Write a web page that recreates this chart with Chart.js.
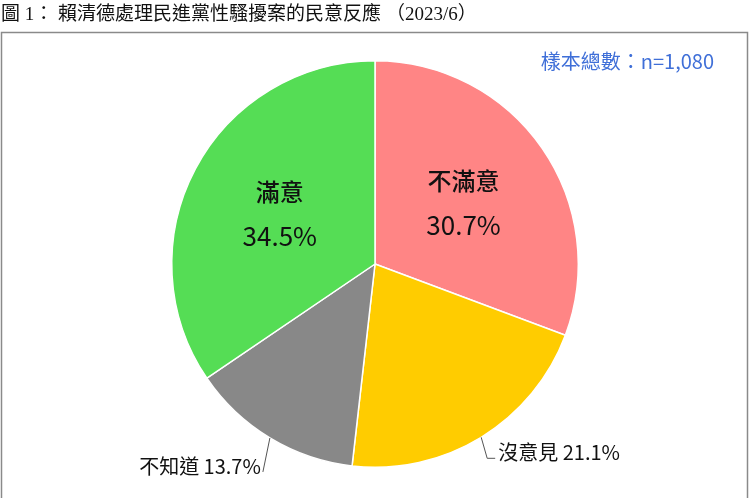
<!DOCTYPE html>
<html>
<head>
<meta charset="utf-8">
<script src="https://cdn.jsdelivr.net/npm/chart.js@4"></script>
<style>
  html, body { margin: 0; padding: 0; background: #fff; }
  #wrap { width: 750px; height: 498px; }
</style>
</head>
<body>
<div id="wrap"><canvas id="pie_chart" width="750" height="498"></canvas></div>
<script>
// data (clockwise from 12 o'clock)
const categories = ["不滿意", "沒意見", "不知道", "滿意"];
const percents = [30.7, 21.1, 13.7, 34.5];
const sliceColors = ["#FF8585", "#FFCC00", "#888888", "#55DD55"];

// title is drawn in three pieces so the spacing follows the original
const titleParts = ["圖 1：", "賴清德處理民進黨性騷擾案的民意反應", "（2023/6）"];
const sampleNote = "樣本總數：n=1,080";

const SANS = '"Noto Sans CJK TC", "Noto Sans", sans-serif';
const TITLE_FONT = '"Liberation Serif", "Noto Sans CJK TC", serif';

// frame, title and sample size
const framePlugin = {
  id: "frame",
  beforeDraw(chart) {
    const ctx = chart.ctx;
    ctx.save();
    ctx.fillStyle = "#fff";
    ctx.fillRect(0, 0, chart.width, chart.height);

    ctx.strokeStyle = "#8a8a8a";
    ctx.lineWidth = 1.5;
    ctx.strokeRect(1.5, 32.5, chart.width - 4, chart.height + 20);

    ctx.fillStyle = "#111";
    ctx.textAlign = "left";
    ctx.textBaseline = "middle";
    ctx.font = "19px " + TITLE_FONT;
    ctx.fillText(titleParts[0], 1, 15);
    ctx.font = "19px " + TITLE_FONT;
    ctx.fillText(titleParts[1], 58, 15);
    ctx.font = "19px " + TITLE_FONT;
    ctx.fillText(titleParts[2], 386, 15);

    ctx.fillStyle = "#3F6FD8";
    ctx.font = "20px " + SANS;
    ctx.textAlign = "right";
    ctx.fillText(sampleNote, 714, 61);
    ctx.restore();
  }
};

// slice labels: big ones inside, small ones outside with a leader line
const labelPlugin = {
  id: "sliceLabels",
  afterDatasetsDraw(chart) {
    const ctx = chart.ctx;
    const meta = chart.getDatasetMeta(0);
    ctx.save();
    meta.data.forEach(function (arc, i) {
      const p = arc.getProps(["x", "y", "startAngle", "endAngle", "outerRadius"], true);
      const mid = (p.startAngle + p.endAngle) / 2;
      const cos = Math.cos(mid), sin = Math.sin(mid);
      const pct = percents[i].toFixed(1) + "%";

      if (percents[i] > 25) {
        const r = p.outerRadius * 0.53;
        const cx = p.x + cos * r, cy = p.y + sin * r;
        ctx.fillStyle = "#111";
        ctx.textAlign = "center";
        ctx.textBaseline = "middle";
        ctx.font = "500 24px " + SANS;
        ctx.fillText(categories[i], cx, cy - 22);
        ctx.font = "26px " + SANS;
        ctx.fillText(pct, cx, cy + 23);
        return;
      }

      const ex = p.x + cos * p.outerRadius;
      const ey = p.y + sin * p.outerRadius;
      ctx.strokeStyle = "#555";
      ctx.lineWidth = 1;
      ctx.fillStyle = "#111";
      ctx.font = "20px " + SANS;
      ctx.textBaseline = "middle";
      ctx.beginPath();
      ctx.moveTo(ex, ey);
      if (cos >= 0) {
        const bx = ex + 6, by = ey + 21;
        ctx.lineTo(bx, by);
        ctx.lineTo(bx + 8, by);
        ctx.stroke();
        ctx.textAlign = "left";
        ctx.fillText(categories[i] + " " + pct, bx + 11, by - 6);
      } else {
        const bx = ex - 7, by = ey + 34;
        ctx.lineTo(bx, by);
        ctx.stroke();
        ctx.textAlign = "right";
        ctx.fillText(categories[i] + " " + pct, bx - 2, by - 6);
      }
    });
    ctx.restore();
  }
};

const pieCtx = document.getElementById("pie_chart").getContext("2d");
new Chart(pieCtx, {
  type: "pie",
  data: {
    labels: categories,
    datasets: [{
      data: percents,
      backgroundColor: sliceColors,
      borderColor: "#ffffff",
      borderWidth: 1.5
    }]
  },
  options: {
    responsive: false,
    animation: false,
    layout: { padding: { top: 60, bottom: 30, left: 0, right: 0 } },
    plugins: {
      legend: { display: false },
      tooltip: { enabled: false },
      title: { display: false }
    }
  },
  plugins: [framePlugin, labelPlugin]
});
</script>
</body>
</html>
